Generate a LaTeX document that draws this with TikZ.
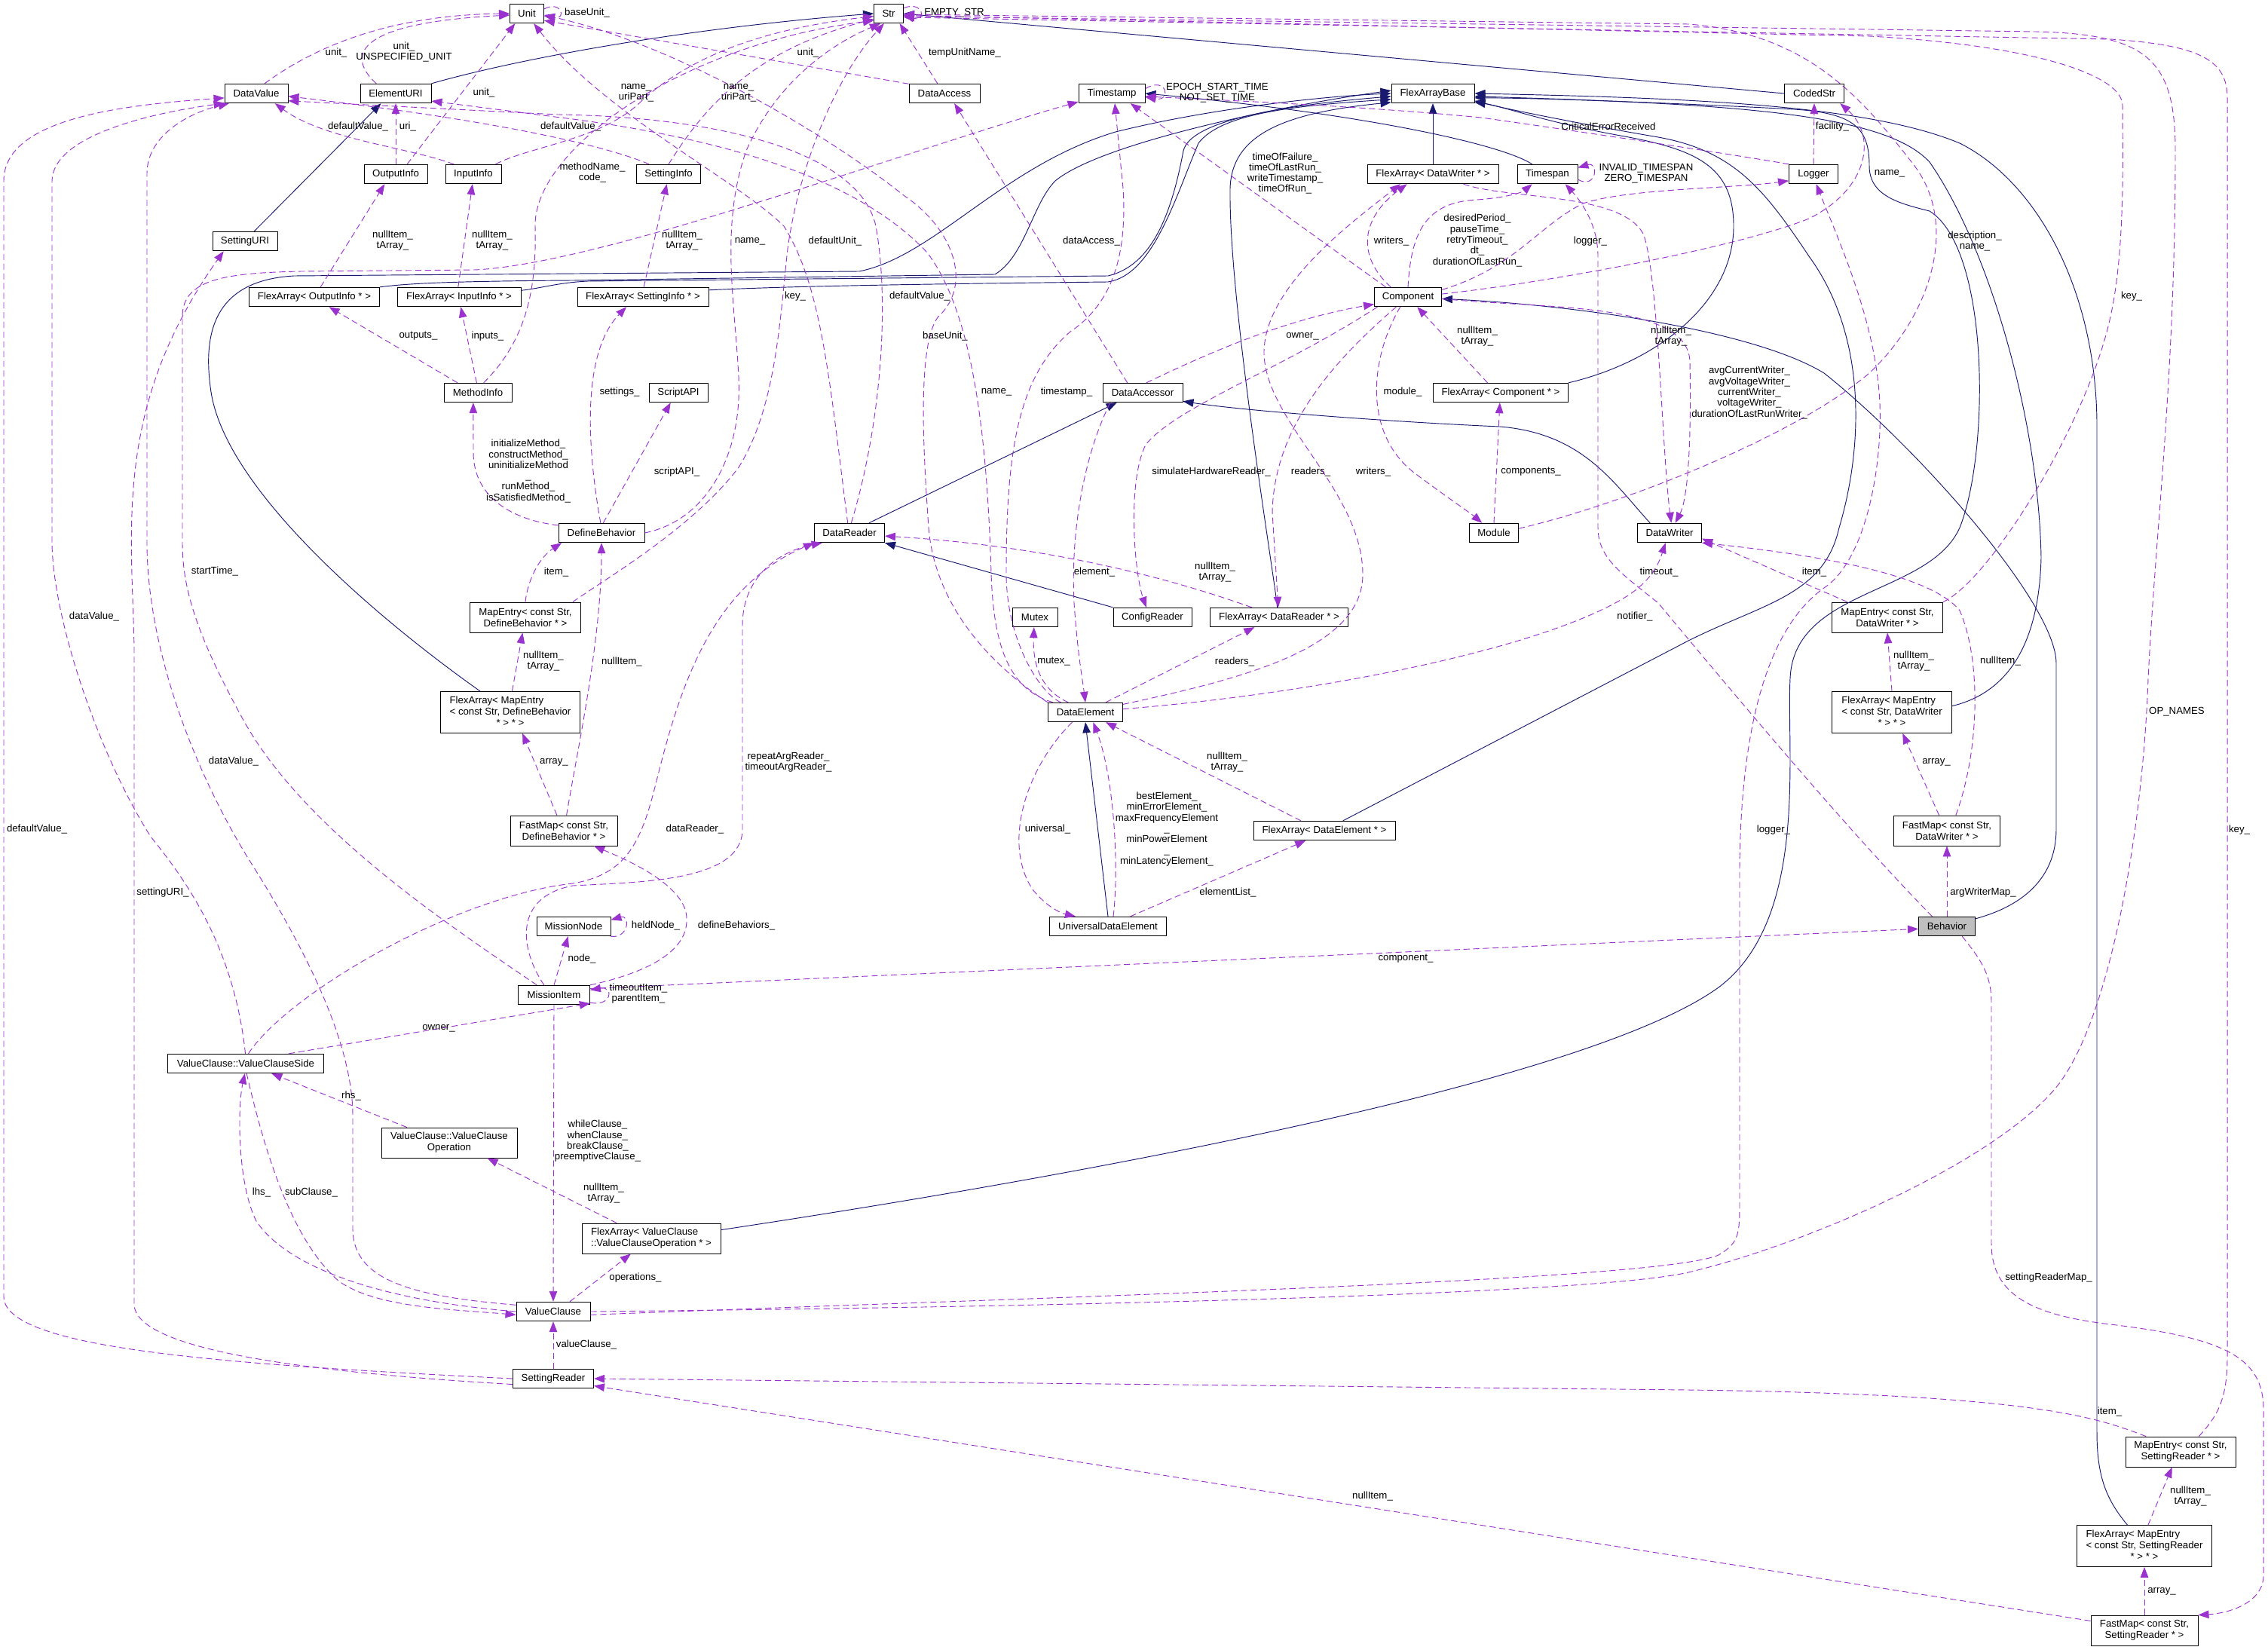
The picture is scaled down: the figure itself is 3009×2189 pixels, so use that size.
\documentclass[tikz,border=0pt]{standalone}
\usepackage{fontspec}
\setmainfont{Liberation Sans}
\usetikzlibrary{arrows.meta}
\definecolor{usecol}{HTML}{9A32CD}
\definecolor{inhcol}{HTML}{191970}
\newcommand{\nodefont}{\fontsize{11.3}{12.8}\selectfont}
\newcommand{\lblfont}{\fontsize{11.3}{12.2}\selectfont}
\newcommand{\threeline}[3]{\begin{tabular}{@{}l@{}}#1\\#2\\\multicolumn{1}{@{}c@{}}{#3}\end{tabular}}
\tikzset{
    cls/.style={rectangle, draw=black, line width=0.7pt, fill=white, inner sep=0pt, minimum height=0.765cm, font=\nodefont, align=center},
    cls2/.style={cls, minimum height=1.2cm},
    cls3/.style={cls, minimum height=1.65cm},
    bw/.style={minimum width=#1*0.03cm},
    useline/.style={draw=usecol, line width=0.8pt, dash pattern=on 7pt off 4pt, -{Triangle[length=12pt,width=9pt]}},
    inhline/.style={draw=inhcol, line width=0.8pt, -{Triangle[length=12pt,width=9pt]}},
    lbl/.style={font=\lblfont, align=center, inner sep=0pt}
}
\begin{document}
\begin{tikzpicture}[x=0.03cm, y=-0.03cm]
\useasboundingbox (0,0) rectangle (3009,2189);

% Classes - top rows
\node[cls, bw=45] (unit) at (699,18) {Unit};
\node[cls, bw=39] (str) at (1179,18) {Str};
\node[cls, bw=84] (dvalue) at (340,124) {DataValue};
\node[cls, bw=94] (euri) at (525,124) {ElementURI};
\node[cls, bw=94] (daccess) at (1253,124) {DataAccess};
\node[cls, bw=88] (tstamp) at (1475,124) {Timestamp};
\node[cls, bw=110] (fabase) at (1901,124) {FlexArrayBase};
\node[cls, bw=79] (codedstr) at (2407,124) {CodedStr};
\node[cls, bw=84] (outinfo) at (525,231) {OutputInfo};
\node[cls, bw=74] (ininfo) at (628,231) {InputInfo};
\node[cls, bw=85] (setinfo) at (887,231) {SettingInfo};
\node[cls, bw=174] (fadwriter) at (1901,231) {FlexArray< DataWriter * >};
\node[cls, bw=80] (tspan) at (2053,231) {Timespan};
\node[cls, bw=65] (logger) at (2406,231) {Logger};
\node[cls, bw=86] (seturi) at (325,320) {SettingURI};
\node[cls, bw=173] (faoutinfo) at (417,394) {FlexArray< OutputInfo * >};
\node[cls, bw=164] (faininfo) at (609,394) {FlexArray< InputInfo * >};
\node[cls, bw=174] (fasetinfo) at (853,394) {FlexArray< SettingInfo * >};
\node[cls, bw=89] (comp) at (1868,394) {Component};

% Classes - middle rows
\node[cls, bw=90] (minfo) at (634,521) {MethodInfo};
\node[cls, bw=78] (sapi) at (900,521) {ScriptAPI};
\node[cls, bw=106] (daccessor) at (1516,521) {DataAccessor};
\node[cls, bw=179] (facomp) at (1991,521) {FlexArray< Component * >};
\node[cls, bw=114] (defbeh) at (798,707) {DefineBehavior};
\node[cls, bw=93] (dreader) at (1127,707) {DataReader};
\node[cls, bw=65] (module) at (1982,707) {Module};
\node[cls, bw=85] (dwriter) at (2215,707) {DataWriter};
\node[cls2, bw=147] (medb) at (697,819) {MapEntry< const Str,\\DefineBehavior * >};
\node[cls, bw=60] (mutex) at (1373,819) {Mutex};
\node[cls, bw=104] (creader) at (1529,819) {ConfigReader};
\node[cls, bw=183] (fadreader) at (1697,819) {FlexArray< DataReader * >};
\node[cls2, bw=147] (medw) at (2504,819) {MapEntry< const Str,\\DataWriter * >};
\node[cls3, bw=185] (famedb) at (677,945) {\threeline{FlexArray< MapEntry}{< const Str, DefineBehavior}{* > * >}};
\node[cls, bw=99] (delem) at (1440,945) {DataElement};
\node[cls3, bw=159] (famedw) at (2510,945) {\threeline{FlexArray< MapEntry}{< const Str, DataWriter}{* > * >}};
\node[cls2, bw=142] (fmdb) at (748,1102) {FastMap< const Str,\\DefineBehavior * >};
\node[cls, bw=188] (fadelem) at (1757,1102) {FlexArray< DataElement * >};
\node[cls2, bw=141] (fmdw) at (2583,1102) {FastMap< const Str,\\DataWriter * >};
\node[cls, bw=98] (mnode) at (761,1229) {MissionNode};
\node[cls, bw=155] (ude) at (1470,1229) {UniversalDataElement};
\node[cls, bw=75, fill=gray!50] (behavior) at (2583,1229) {Behavior};

% Classes - bottom rows
\node[cls, bw=95] (mitem) at (735,1320) {MissionItem};
\node[cls, bw=207] (vcside) at (326,1411) {ValueClause::ValueClauseSide};
\node[cls2, bw=180] (vcop) at (596,1516) {ValueClause::ValueClause\\Operation};
\node[cls2, bw=184, align=left] (favcop) at (864,1643) {FlexArray< ValueClause\\::ValueClauseOperation * >};
\node[cls, bw=98] (vclause) at (734,1740) {ValueClause};
\node[cls, bw=107] (sreader) at (734,1829) {SettingReader};
\node[cls2, bw=146] (mesr) at (2893,1926) {MapEntry< const Str,\\SettingReader * >};
\node[cls3, bw=179] (famesr) at (2845,2051) {\threeline{FlexArray< MapEntry}{< const Str, SettingReader}{* > * >}};
\node[cls2, bw=142] (fmsr) at (2845,2163) {FastMap< const Str,\\SettingReader * >};

% Inheritance
\draw[inhline] (euri.north east) .. controls (680,80) and (900,38) .. (str.west);
\draw[inhline] (seturi.47) -- (euri.-146);
\draw[inhline] (codedstr.west) -- (str.east);
\draw[inhline] (fadwriter.north) -- (fabase.south);
\draw[inhline] (tspan.147) .. controls (1990,190) and (1800,150) .. (tstamp.east);
\draw[inhline] (dreader.27) -- (daccessor.-159);
\draw[inhline] (creader.north west) -- (dreader.south east);
\draw[inhline] (dwriter.153) .. controls (2140,640) and (2100,575) .. (1990,566) .. controls (1850,560) and (1650,545) .. (daccessor.-12);
\draw[inhline] (ude.north) -- (delem.south);
\draw[inhline] (behavior.15) .. controls (2690,1200) and (2728,1160) .. (2728,1100) -- (2728,880) .. controls (2728,800) and (2540,590) .. (2420,495) .. controls (2330,440) and (2100,405) .. (comp.-3);
\draw[inhline] (facomp.north east) .. controls (2200,480) and (2300,400) .. (2300,300) .. controls (2300,220) and (2250,198) .. (2150,180) .. controls (2050,162) and (1990,140) .. (fabase.-12);
\draw[inhline] (famedw.6) .. controls (2660,920) and (2705,860) .. (2708,740) .. controls (2705,560) and (2640,330) .. (2560,215) .. controls (2500,150) and (2300,138) .. (fabase.-4);
\draw[inhline] (famesr.129) .. controls (2795,1990) and (2782,1960) .. (2782,1900) -- (2782,560) .. controls (2780,380) and (2700,240) .. (2600,190) .. controls (2480,140) and (2250,130) .. (fabase.0);
\draw[inhline] (favcop.7) .. controls (1400,1565) and (2100,1440) .. (2280,1310) .. controls (2400,1220) and (2370,1000) .. (2375,900) .. controls (2380,780) and (2560,790) .. (2600,700) .. controls (2640,600) and (2640,330) .. (2560,280) .. controls (2520,270) and (2480,260) .. (2480,220) .. controls (2480,170) and (2460,150) .. (2380,145) .. controls (2250,138) and (2050,130) .. (fabase.-6);
\draw[inhline] (fadelem.28) -- (2240,850) .. controls (2340,800) and (2420,790) .. (2440,700) .. controls (2470,600) and (2480,450) .. (2400,340) .. controls (2340,250) and (2300,200) .. (2200,182) .. controls (2100,165) and (2000,145) .. (fabase.-10);
\draw[inhline] (famedb.145) .. controls (500,820) and (300,650) .. (280,520) .. controls (268,440) and (285,372) .. (390,366) -- (1140,360) .. controls (1240,340) and (1330,220) .. (1480,175) .. controls (1600,145) and (1750,128) .. (fabase.west);
\draw[inhline] (faoutinfo.north east) .. controls (540,376) and (600,373) .. (760,372) -- (1320,364) .. controls (1360,340) and (1370,270) .. (1400,240) .. controls (1460,190) and (1700,140) .. (fabase.176);
\draw[inhline] (faininfo.6) .. controls (720,382) and (740,375) .. (780,373) -- (1470,366) .. controls (1530,352) and (1555,280) .. (1570,200) .. controls (1580,160) and (1700,140) .. (fabase.184);
\draw[inhline] (fasetinfo.6) .. controls (1000,382) and (1100,378) .. (1470,374) .. controls (1530,365) and (1560,260) .. (1590,190) .. controls (1620,150) and (1720,140) .. (fabase.188);
\draw[inhline] (fadreader.100) .. controls (1690,760) and (1630,400) .. (1632,250) .. controls (1634,180) and (1700,150) .. (fabase.192);

% Members - Unit, Str, DataValue
\draw[useline] (unit.15) .. controls (745,0) and (752,26) .. (unit.-8) node[lbl] at (779,17) {baseUnit\_};
\draw[useline] (dvalue.50) .. controls (420,60) and (520,20) .. (unit.west) node[lbl] at (446,70) {unit\_};
\draw[useline] (euri.153) .. controls (455,70) and (480,30) .. (unit.185) node[lbl] at (536,69) {unit\_\\UNSPECIFIED\_UNIT};
\draw[useline] (outinfo.41) -- (unit.-140) node[lbl] at (642,123) {unit\_};
\draw[useline] (daccess.165) -- (unit.-22) node[lbl] at (1072,70) {unit\_};
\draw[useline] (daccess.125) -- (str.-42) node[lbl] at (1280,70) {tempUnitName\_};
\draw[useline] (dreader.100) .. controls (1100,500) and (1090,380) .. (1040,300) .. controls (980,240) and (800,150) .. (unit.-55) node[lbl] at (1108,320) {defaultUnit\_};
\draw[useline] (delem.north west) .. controls (1310,880) and (1240,800) .. (1232,700) .. controls (1225,600) and (1215,440) .. (1250,415) .. controls (1290,370) and (1260,300) .. (1200,260) .. controls (1100,180) and (900,60) .. (unit.-5) node[lbl] at (1254,446) {baseUnit\_};
\draw[useline] (delem.163) .. controls (1340,915) and (1318,860) .. (1315,760) .. controls (1310,600) and (1295,420) .. (1230,335) .. controls (1150,250) and (1000,190) .. (760,158) -- (euri.-12) node[lbl] at (1322,520) {name\_};
\draw[useline] (dreader.80) .. controls (1170,560) and (1180,400) .. (1162,300) .. controls (1140,200) and (950,155) .. (740,152) -- (dvalue.-13) node[lbl] at (1220,393) {defaultValue\_};
\draw[useline] (setinfo.153) .. controls (820,200) and (700,165) .. (dvalue.-5) node[lbl] at (757,168) {defaultValue\_};
\draw[useline] (ininfo.153) .. controls (540,195) and (430,185) .. (dvalue.-28) node[lbl] at (475,168) {defaultValue\_};
\draw[useline] (outinfo.north) -- (euri.south) node[lbl] at (541,168) {uri\_};
\draw[useline] (ininfo.24) .. controls (700,195) and (800,185) .. (850,135) .. controls (910,80) and (1000,40) .. (str.190) node[lbl] at (844,123) {name\_\\uriPart\_};
\draw[useline] (setinfo.north) .. controls (930,150) and (990,70) .. (str.200) node[lbl] at (980,123) {name\_\\uriPart\_};
\draw[useline] (minfo.60) .. controls (700,450) and (712,380) .. (710,300) .. controls (708,200) and (900,60) .. (str.205) node[lbl] at (786,229) {methodName\_\\code\_};
\draw[useline] (defbeh.east) .. controls (940,690) and (985,600) .. (980,500) .. controls (975,400) and (955,300) .. (990,200) .. controls (1030,110) and (1100,60) .. (str.230) node[lbl] at (995,320) {name\_};
\draw[useline] (medb.18) .. controls (800,770) and (920,700) .. (980,620) .. controls (1030,540) and (1035,420) .. (1045,330) .. controls (1060,220) and (1110,100) .. (str.245) node[lbl] at (1055,393) {key\_};
\draw[useline] (str.20) .. controls (1225,0) and (1230,30) .. (str.-5) node[lbl] at (1266,17) {EMPTY\_STR};
\draw[useline] (module.10) .. controls (2150,670) and (2380,580) .. (2480,495) .. controls (2560,420) and (2600,300) .. (2540,220) .. controls (2470,130) and (2400,45) .. (2240,32) -- (str.-3) node[lbl] at (2620,320) {description\_\\name\_};
\draw[useline] (medw.north east) .. controls (2640,770) and (2770,560) .. (2800,420) .. controls (2820,330) and (2816,200) .. (2816,140) .. controls (2816,100) and (2700,60) .. (2480,48) -- (str.-7) node[lbl] at (2828,393) {key\_};
\draw[useline] (vclause.east) .. controls (1300,1735) and (2100,1720) .. (2240,1688) .. controls (2400,1650) and (2650,1540) .. (2730,1440) .. controls (2800,1350) and (2843,1100) .. (2850,900) .. controls (2860,700) and (2886,500) .. (2886,200) .. controls (2886,80) and (2850,45) .. (2700,42) -- (str.-10) node[lbl] at (2888,944) {OP\_NAMES};
\draw[useline] (mesr.40) .. controls (2940,1880) and (2955,1860) .. (2955,1800) -- (2955,130) .. controls (2955,80) and (2920,60) .. (2800,52) -- (str.-14) node[lbl] at (2971,1101) {key\_};

% Members - Component, Timestamp, Logger
\draw[useline] (comp.5) .. controls (2050,375) and (2300,330) .. (2400,290) .. controls (2480,250) and (2490,180) .. (codedstr.-21) node[lbl] at (2507,230) {name\_};
\draw[useline] (logger.north) -- (codedstr.south) node[lbl] at (2431,168) {facility\_};
\draw[useline] (logger.158) .. controls (2300,205) and (2100,175) .. (1965,156) .. controls (1800,140) and (1600,132) .. (tstamp.-5) node[lbl] at (2134,168) {CriticalErrorReceived};
\draw[useline] (tstamp.8) .. controls (1548,100) and (1555,135) .. (tstamp.-6) node[lbl] at (1615,123) {EPOCH\_START\_TIME\\NOT\_SET\_TIME};
\draw[useline] (comp.156) -- (tstamp.-28) node[lbl] at (1705,230) {timeOfFailure\_\\timeOfLastRun\_\\writeTimestamp\_\\timeOfRun\_};
\draw[useline] (comp.150) .. controls (1800,340) and (1805,290) .. (fadwriter.-159) node[lbl] at (1846,320) {writers\_};
\draw[useline] (comp.north) .. controls (1872,310) and (1890,268) .. (1960,265) .. controls (2000,262) and (2020,255) .. (tspan.-147) node[lbl] at (1960,319) {desiredPeriod\_\\pauseTime\_\\retryTimeout\_\\dt\_\\durationOfLastRun\_};
\draw[useline] (comp.12) .. controls (2010,355) and (2040,300) .. (2100,270) .. controls (2160,250) and (2300,250) .. (logger.-165) node[lbl] at (2110,320) {logger\_};
\draw[useline] (comp.-3) .. controls (2050,410) and (2240,400) .. (2242,480) .. controls (2244,580) and (2240,660) .. (dwriter.60) node[lbl] at (2321,521) {avgCurrentWriter\_\\avgVoltageWriter\_\\currentWriter\_\\voltageWriter\_\\durationOfLastRunWriter\_};
\draw[useline] (fadwriter.-18) .. controls (2000,265) and (2150,255) .. (2180,310) .. controls (2200,360) and (2205,600) .. (dwriter.80) node[lbl] at (2217,446) {nullItem\_\\tArray\_};
\draw[useline] (tspan.-10) .. controls (2118,252) and (2122,214) .. (tspan.12) node[lbl] at (2184,230) {INVALID\_TIMESPAN\\ZERO\_TIMESPAN};
\draw[useline] (behavior.146) .. controls (2450,1100) and (2300,920) .. (2200,800) .. controls (2150,760) and (2120,740) .. (2120,700) -- (2120,340) .. controls (2120,300) and (2100,270) .. (tspan.-29) node[lbl] at (2201,759) {timeout\_};
\draw[useline] (daccessor.70) .. controls (1600,470) and (1700,425) .. (comp.-168) node[lbl] at (1728,446) {owner\_};
\draw[useline] (daccessor.147) -- (daccess.-45) node[lbl] at (1448,320) {dataAccess\_};
\draw[useline] (daccessor.-163) .. controls (1440,600) and (1420,700) .. (1425,800) .. controls (1430,870) and (1436,900) .. (delem.north) node[lbl] at (1452,759) {element\_};
\draw[useline] (comp.-162) .. controls (1700,490) and (1560,540) .. (1520,590) .. controls (1495,640) and (1505,760) .. (creader.122) node[lbl] at (1607,626) {simulateHardwareReader\_};
\draw[useline] (comp.-140) .. controls (1780,470) and (1690,560) .. (1688,680) -- (fadreader.95) node[lbl] at (1739,626) {readers\_};
\draw[useline] (comp.-128) .. controls (1815,480) and (1810,580) .. (1880,630) .. controls (1920,660) and (1950,680) .. (module.140) node[lbl] at (1861,520) {module\_};
\draw[useline] (module.north) -- (facomp.-95) node[lbl] at (2031,626) {components\_};
\draw[useline] (facomp.143) -- (comp.-47) node[lbl] at (1960,446) {nullItem\_\\tArray\_};

% Members - DataElement
\draw[useline] (delem.150) .. controls (1380,915) and (1370,880) .. (mutex.-95) node[lbl] at (1398,878) {mutex\_};
\draw[useline] (delem.158) .. controls (1380,920) and (1335,850) .. (1335,760) .. controls (1335,600) and (1350,500) .. (1420,440) .. controls (1480,400) and (1495,330) .. (1490,250) -- (tstamp.-73) node[lbl] at (1415,520) {timestamp\_};
\draw[useline] (delem.26) -- (fadreader.-158) node[lbl] at (1638,878) {readers\_};
\draw[useline] (fadreader.160) .. controls (1560,770) and (1400,725) .. (dreader.-5) node[lbl] at (1612,759) {nullItem\_\\tArray\_};
\draw[useline] (delem.12) .. controls (1650,900) and (1810,860) .. (1808,760) .. controls (1806,650) and (1680,560) .. (1677,470) .. controls (1675,380) and (1800,290) .. (fadwriter.-163) node[lbl] at (1822,626) {writers\_};
\draw[useline] (delem.5) .. controls (1750,920) and (2050,860) .. (2160,790) .. controls (2190,770) and (2200,750) .. (dwriter.-112) node[lbl] at (2169,818) {notifier\_};
\draw[useline] (fadelem.157) -- (delem.-26) node[lbl] at (1628,1011) {nullItem\_\\tArray\_};
\draw[useline] (ude.62) .. controls (1485,1150) and (1478,1030) .. (delem.-52) node[lbl] at (1548,1100) {bestElement\_\\minErrorElement\_\\maxFrequencyElement\\\_\\minPowerElement\\\_\\minLatencyElement\_};
\draw[useline] (delem.-143) .. controls (1360,1020) and (1330,1120) .. (1370,1180) .. controls (1390,1205) and (1410,1212) .. (ude.163) node[lbl] at (1390,1100) {universal\_};
\draw[useline] (ude.24) -- (fadelem.-152) node[lbl] at (1629,1184) {elementList\_};

% Members - DataWriter maps and Behavior
\draw[useline] (medw.159) -- (dwriter.-10) node[lbl] at (2407,759) {item\_};
\draw[useline] (famedw.north) -- (medw.south) node[lbl] at (2539,877) {nullItem\_\\tArray\_};
\draw[useline] (fmdw.117) -- (famedw.-63) node[lbl] at (2569,1011) {array\_};
\draw[useline] (fmdw.60) .. controls (2625,1000) and (2630,880) .. (2600,810) .. controls (2560,760) and (2400,735) .. (dwriter.-17) node[lbl] at (2654,877) {nullItem\_};
\draw[useline] (behavior.north) -- (fmdw.south) node[lbl] at (2631,1184) {argWriterMap\_};
\draw[useline] (mitem.10) -- (behavior.-175) node[lbl] at (1865,1272) {component\_};
\draw[useline] (behavior.-33) .. controls (2625,1270) and (2642,1290) .. (2642,1330) -- (2642,1650) .. controls (2642,1720) and (2700,1745) .. (2800,1757) .. controls (2950,1775) and (3003,1800) .. (3003,1870) -- (3003,2090) .. controls (3003,2125) and (2960,2140) .. (fmsr.north east) node[lbl] at (2718,1695) {settingReaderMap\_};

% Members - Mission items
\draw[useline] (mitem.-12) .. controls (812,1336) and (815,1308) .. (mitem.8) node[lbl] at (847,1318) {timeoutItem\_\\parentItem\_};
\draw[useline] (mnode.-15) .. controls (834,1246) and (837,1213) .. (mnode.10) node[lbl] at (870,1228) {heldNode\_};
\draw[useline] (mitem.north) -- (mnode.-119) node[lbl] at (772,1272) {node\_};
\draw[useline] (mitem.north east) .. controls (860,1290) and (920,1260) .. (910,1210) .. controls (900,1170) and (830,1140) .. (fmdb.-27) node[lbl] at (977,1228) {defineBehaviors\_};
\draw[useline] (vcside.13) -- (mitem.-13) node[lbl] at (582,1364) {owner\_};
\draw[useline] (vcside.75) .. controls (380,1320) and (600,1190) .. (760,1172) .. controls (830,1160) and (850,1120) .. (870,1040) .. controls (900,920) and (940,780) .. (dreader.south west) node[lbl] at (922,1100) {dataReader\_};
\draw[useline] (mitem.135) .. controls (690,1260) and (680,1190) .. (760,1175) .. controls (850,1170) and (985,1170) .. (985,1100) -- (985,830) .. controls (985,760) and (1040,730) .. (dreader.-160) node[lbl] at (1046,1011) {repeatArgReader\_\\timeoutArgReader\_};
\draw[useline] (fmdb.114) -- (famedb.-60) node[lbl] at (735,1011) {array\_};
\draw[useline] (fmdb.80) .. controls (765,1000) and (798,850) .. (defbeh.south) node[lbl] at (825,878) {nullItem\_};
\draw[useline] (famedb.85) -- (medb.-100) node[lbl] at (721,877) {nullItem\_\\tArray\_};
\draw[useline] (medb.north) .. controls (700,770) and (715,740) .. (defbeh.-166) node[lbl] at (738,759) {item\_};
\draw[useline] (defbeh.170) .. controls (680,690) and (628,660) .. (628,600) -- (minfo.-115) node[lbl] at (701,625) {initializeMethod\_\\constructMethod\_\\uninitializeMethod\\\_\\runMethod\_\\isSatisfiedMethod\_};
\draw[useline] (minfo.154) -- (faoutinfo.-34) node[lbl] at (555,446) {outputs\_};
\draw[useline] (minfo.97) -- (faininfo.-80) node[lbl] at (647,446) {inputs\_};
\draw[useline] (faoutinfo.58) -- (outinfo.-138) node[lbl] at (521,319) {nullItem\_\\tArray\_};
\draw[useline] (faininfo.95) -- (ininfo.-95) node[lbl] at (653,319) {nullItem\_\\tArray\_};
\draw[useline] (fasetinfo.85) -- (setinfo.-100) node[lbl] at (905,319) {nullItem\_\\tArray\_};
\draw[useline] (defbeh.95) .. controls (780,600) and (770,470) .. (fasetinfo.-149) node[lbl] at (822,520) {settings\_};
\draw[useline] (defbeh.80) -- (sapi.-128) node[lbl] at (898,626) {scriptAPI\_};
\draw[useline] (mitem.150) .. controls (600,1230) and (400,1100) .. (320,950) .. controls (260,840) and (242,780) .. (242,720) -- (242,420) .. controls (242,370) and (300,362) .. (400,360) -- (630,358) .. controls (800,350) and (1200,200) .. (tstamp.-166) node[lbl] at (285,758) {startTime\_};

% Members - ValueClause and SettingReader
\draw[useline] (sreader.west) .. controls (300,1810) and (5,1790) .. (5,1720) -- (5,240) .. controls (5,160) and (150,140) .. (dvalue.-172) node[lbl] at (49,1100) {defaultValue\_};
\draw[useline] (sreader.-172) .. controls (400,1820) and (178,1790) .. (178,1730) -- (178,860) .. controls (175,700) and (150,540) .. (seturi.-155) node[lbl] at (216,1184) {settingURI\_};
\draw[useline] (vcside.92) .. controls (310,1250) and (240,1160) .. (200,1110) .. controls (130,1000) and (70,820) .. (69,720) -- (69,240) .. controls (70,180) and (200,150) .. (dvalue.-163) node[lbl] at (125,818) {dataValue\_};
\draw[useline] (vclause.170) .. controls (550,1720) and (468,1700) .. (468,1630) -- (468,1480) .. controls (468,1380) and (400,1250) .. (330,1140) .. controls (250,1010) and (195,850) .. (195,720) -- (195,230) .. controls (195,180) and (250,150) .. (dvalue.-160) node[lbl] at (310,1010) {dataValue\_};
\draw[useline] (vcop.160) -- (vcside.-21) node[lbl] at (466,1454) {rhs\_};
\draw[useline] (favcop.156) -- (vcop.-22) node[lbl] at (801,1583) {nullItem\_\\tArray\_};
\draw[useline] (vclause.31) -- (favcop.-143) node[lbl] at (843,1695) {operations\_};
\draw[useline] (vclause.west) .. controls (500,1725) and (380,1680) .. (340,1620) .. controls (315,1570) and (315,1470) .. (vcside.-95) node[lbl] at (347,1582) {lhs\_};
\draw[useline] (vcside.-85) .. controls (345,1500) and (380,1640) .. (450,1700) .. controls (500,1735) and (600,1737) .. (vclause.185) node[lbl] at (413,1582) {subClause\_};
\draw[useline] (mitem.south) -- (vclause.north) node[lbl] at (793,1514) {whileClause\_\\whenClause\_\\breakClause\_\\preemptiveClause\_};
\draw[useline] (sreader.north) -- (vclause.south) node[lbl] at (778,1784) {valueClause\_};
\draw[useline] (vclause.-5) .. controls (1400,1720) and (2200,1700) .. (2280,1665) .. controls (2305,1650) and (2308,1640) .. (2308,1600) -- (2308,1150) .. controls (2310,950) and (2350,830) .. (2420,780) .. controls (2480,740) and (2500,600) .. (2493,520) .. controls (2485,420) and (2440,320) .. (logger.-75) node[lbl] at (2353,1101) {logger\_};
\draw[useline] (mesr.156) .. controls (2780,1880) and (2700,1850) .. (2240,1844) -- (sreader.east) node[lbl] at (2799,1873) {item\_};
\draw[useline] (fmsr.170) -- (sreader.-10) node[lbl] at (1821,1985) {nullItem\_};
\draw[useline] (famesr.80) -- (mesr.-119) node[lbl] at (2906,1985) {nullItem\_\\tArray\_};
\draw[useline] (fmsr.north) -- (famesr.south) node[lbl] at (2868,2111) {array\_};

\end{tikzpicture}
\end{document}
